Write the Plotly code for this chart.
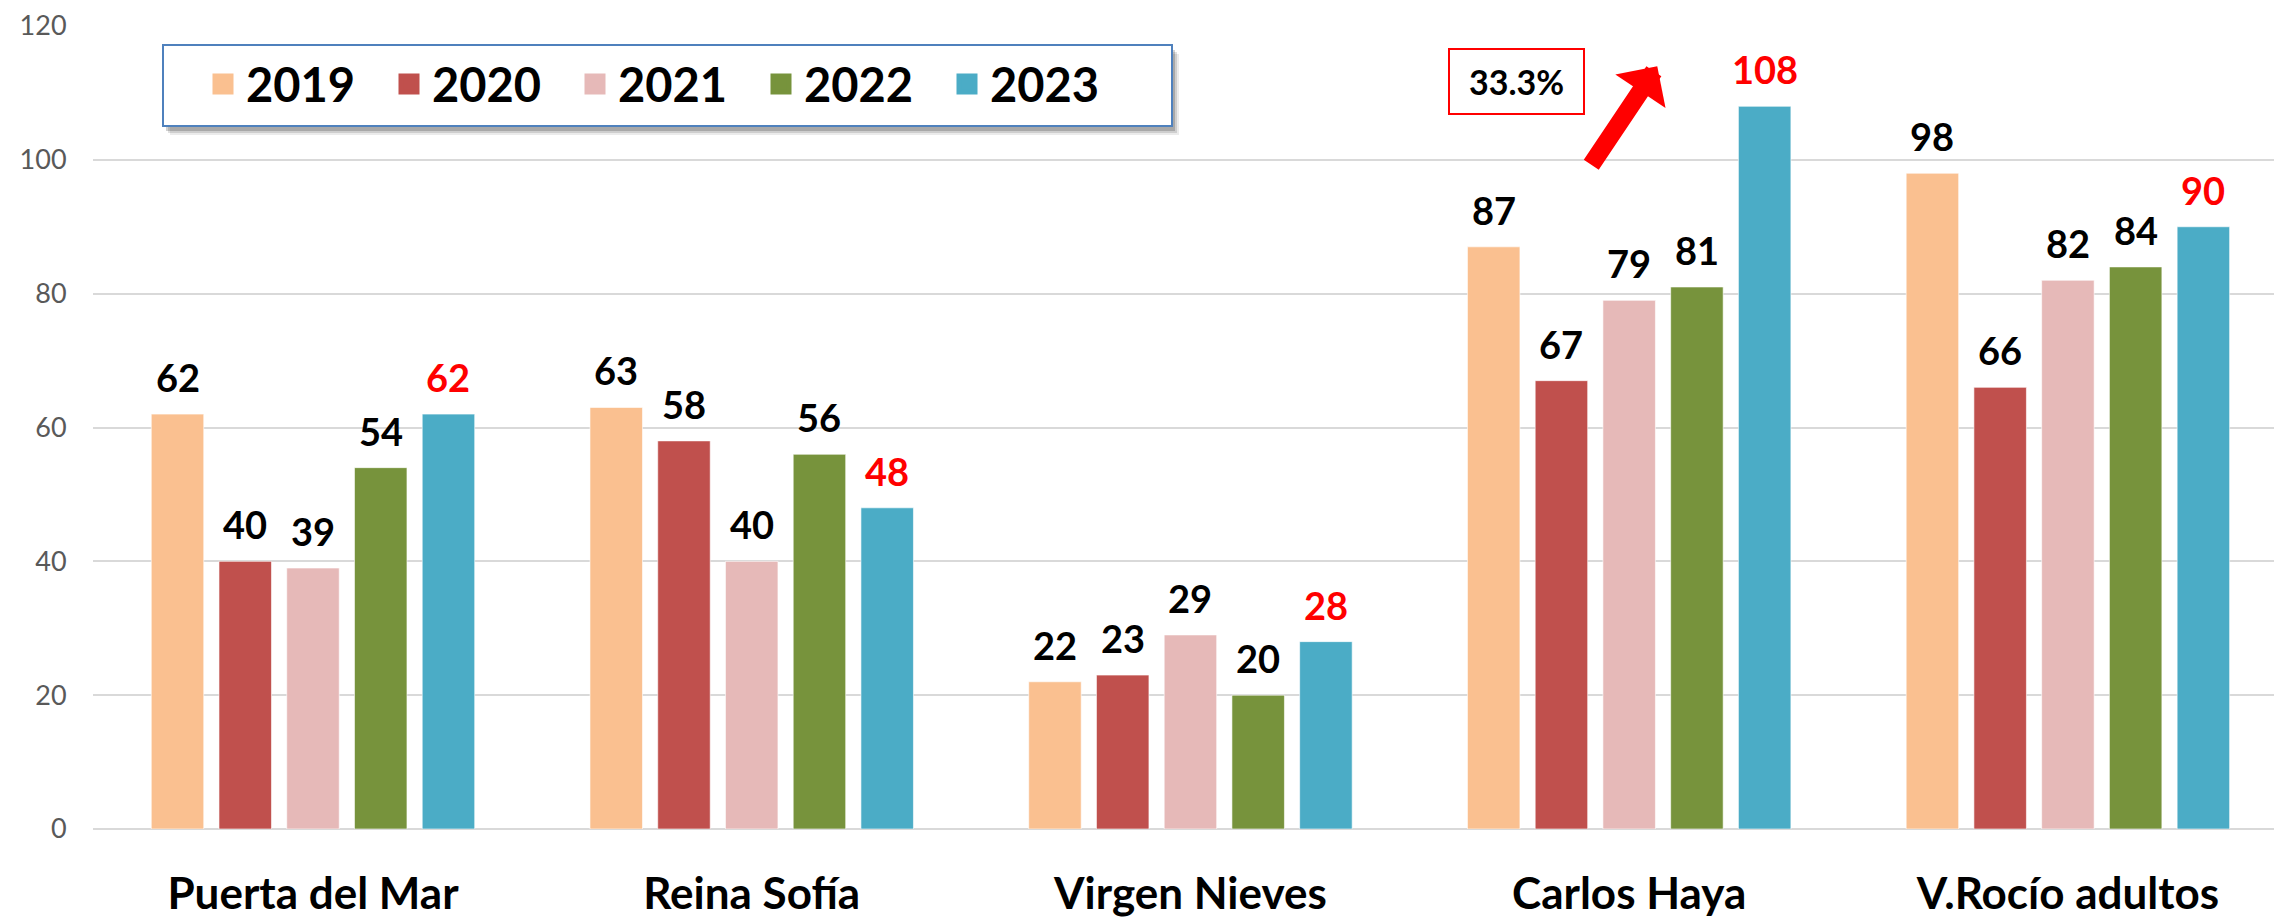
import plotly.graph_objects as go

categories = ["Puerta del Mar", "Reina Sofía", "Virgen Nieves", "Carlos Haya", "V.Rocío adultos"]
years = ["2019", "2020", "2021", "2022", "2023"]
v2019 = [62, 63, 22, 87, 98]
v2020 = [40, 58, 23, 67, 66]
v2021 = [39, 40, 29, 79, 82]
v2022 = [54, 56, 20, 81, 84]
v2023 = [62, 48, 28, 108, 90]
series = [v2019, v2020, v2021, v2022, v2023]
colors = ["#FAC090", "#C0504D", "#E6B9B8", "#77933C", "#4BACC6"]
label_colors = ["#000000", "#000000", "#000000", "#000000", "#FF0000"]
yticks = [0, 20, 40, 60, 80, 100, 120]
growth_label = "33.3%"

FONT = "Lato"
OFF = 8  # default page body margin
W, H = 2282 - OFF, 923 - OFF
ML, MR, MT, MB = 93 - OFF, 0, 26 - OFF, 94
PW, PH = W - ML - MR, H - MT - MB
BARGAP = 0.228
BARGROUPGAP = 0.225
XRANGE = [-0.5014, 4.488]


def px_x(px):
    return (px - OFF - ML) / PW


def px_y(py):
    return (H - MB - (py - OFF)) / PH


fig = go.Figure()
idx = list(range(len(categories)))
for i, (yr, vals) in enumerate(zip(years, series)):
    fig.add_trace(go.Bar(
        x=idx, y=vals, name=yr,
        marker=dict(color=colors[i], line=dict(color="rgba(255,255,255,0.6)", width=1)),
        showlegend=False, hoverinfo="y",
    ))
    # legend proxies (bigger swatches than bar legend icons)
    fig.add_trace(go.Scatter(
        x=[None], y=[None], mode="markers", name=yr,
        marker=dict(symbol="square", size=16, color=colors[i], line=dict(color=colors[i], width=5)),
        showlegend=True,
    ))

# value labels above bars
slot = (1 - BARGAP) / len(years)
annotations = []
for i, vals in enumerate(series):
    for j, v in enumerate(vals):
        annotations.append(dict(
            x=j + (i - (len(years) - 1) / 2) * slot, y=v, xref="x", yref="y",
            text=f"<b>{v}</b>", showarrow=False, yanchor="bottom", yshift=12,
            font=dict(family=FONT, size=38, color=label_colors[i]),
        ))

# growth box
annotations.append(dict(
    x=2.7436, y=111.75, xref="x", yref="y", text=f"<b>{growth_label}</b>", showarrow=False,
    font=dict(family=FONT, size=34, color="#000000"), bgcolor="#FFFFFF",
    bordercolor="#FF0000", borderwidth=2, width=131, height=61,
))
# red arrow
annotations.append(dict(
    x=3.064, y=114.0, xref="x", yref="y", text="", showarrow=True,
    ax=-67, ay=100, axref="pixel", ayref="pixel",
    arrowhead=1, arrowsize=0.56, arrowwidth=18, arrowcolor="#FF0000",
))

# legend frame with soft shadow
lx0, lx1, ly0, ly1 = 163, 1172, 45, 126
shapes = []
for k, a in [(9, 0.08), (7, 0.12), (5, 0.18)]:
    shapes.append(dict(
        type="rect", xref="paper", yref="paper", layer="above",
        x0=px_x(lx0 + k - 2), x1=px_x(lx1 + k - 2), y0=px_y(ly1 + k), y1=px_y(ly0 + k),
        fillcolor=f"rgba(0,0,0,{a})", line=dict(width=0),
    ))
shapes.append(dict(
    type="rect", xref="paper", yref="paper", layer="above",
    x0=px_x(lx0), x1=px_x(lx1), y0=px_y(ly1), y1=px_y(ly0),
    fillcolor="white", line=dict(color="#4F81BD", width=2),
))

fig.update_layout(
    width=W, height=H,
    margin=dict(l=ML, r=MR, t=MT, b=MB, autoexpand=False),
    paper_bgcolor="white", plot_bgcolor="white",
    barmode="group", bargap=BARGAP, bargroupgap=BARGROUPGAP,
    font=dict(family=FONT),
    annotations=annotations,
    shapes=shapes,
    legend=dict(
        orientation="h", x=px_x(200), xanchor="left",
        y=1 - (47 - OFF) / H, yref="container", yanchor="top",
        bgcolor="rgba(0,0,0,0)", borderwidth=0,
        font=dict(family=FONT, size=47, color="#000000", weight="bold"),
        itemsizing="trace", itemwidth=36, entrywidth=135, entrywidthmode="pixels",
    ),
    xaxis=dict(
        tickmode="array", tickvals=idx, ticktext=categories, range=XRANGE,
        showgrid=False, showline=False, zeroline=False,
        ticks="outside", ticklen=26, tickcolor="rgba(0,0,0,0)",
        tickfont=dict(family=FONT, size=44, color="#000000", weight="bold"),
    ),
    yaxis=dict(
        range=[0, 120], tickvals=yticks, showgrid=True, gridcolor="#D9D9D9", gridwidth=2,
        zeroline=True, zerolinecolor="#D9D9D9", zerolinewidth=2, showline=False,
        ticks="outside", ticklen=20, tickcolor="rgba(0,0,0,0)",
        tickfont=dict(family=FONT, size=27, color="#595959"),
    ),
)

fig.write_html("out.html")
